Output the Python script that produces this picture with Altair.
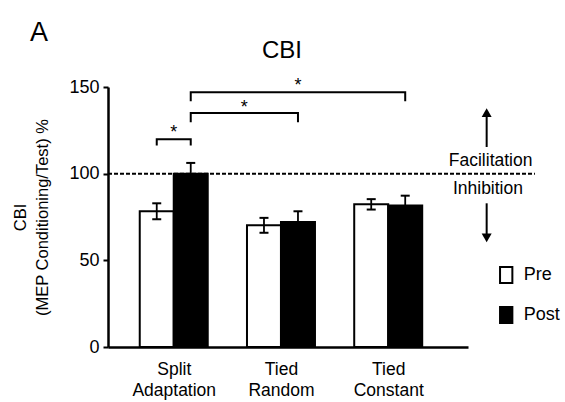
import json
import altair as alt
import pandas as pd

# ---------------- data ----------------
panel_label = ["A"]
chart_title = ["CBI"]
categories = ["Split Adaptation", "Tied Random", "Tied Constant"]
series = ["Pre", "Post"]
pre_values = [78.3, 70.2, 82.3]
post_values = [100.0, 72.1, 81.6]
pre_errors = [4.6, 4.3, 3.0]
post_errors = [6.2, 6.2, 5.7]
y_ticks = [0, 50, 100, 150]
y_title = ["CBI", "(MEP Conditioning/Test) %"]

# significance brackets
bracket_from = [("Split Adaptation", "Pre"), ("Split Adaptation", "Post"), ("Split Adaptation", "Post")]
bracket_to = [("Split Adaptation", "Post"), ("Tied Random", "Post"), ("Tied Constant", "Post")]
bracket_level = [119.8, 135.0, 146.9]
bracket_leg = [116.3, 129.6, 141.8]
star_level = [126.2, 140.6, 153.3]
star_text = ["*", "*", "*"]

reference_line = [100]
zone_labels = ["Facilitation", "Inhibition"]
zone_label_y = [104.3, 88.3]
arrow_from = [115.4, 82.9]
arrow_to = [135.2, 63.0]
arrow_shape = ["triangle-up", "triangle-down"]

# ---------------- layout constants ----------------
X_MIN, X_MAX = -0.613, 2.744
BAR_W = 0.317
DASH_END = 3.368
ANNOT_X = 2.918
FONT = "Liberation Sans"

offset = {"Pre": -BAR_W / 2, "Post": BAR_W / 2}

rows = []
for i, c in enumerate(categories):
    for s, vals, errs in (("Pre", pre_values, pre_errors), ("Post", post_values, post_errors)):
        xc = i + offset[s]
        rows.append(dict(category=c, series=s, x0=xc - BAR_W / 2, x1=xc + BAR_W / 2, xc=xc,
                         value=vals[i], lo=vals[i] - errs[i], hi=vals[i] + errs[i]))
bars_df = pd.DataFrame(rows)


def pos(cat, s):
    return categories.index(cat) + offset[s]


brows, srows = [], []
for b in range(len(bracket_from)):
    xa = pos(*bracket_from[b])
    xb = pos(*bracket_to[b])
    pts = [(xa, bracket_leg[b]), (xa, bracket_level[b]), (xb, bracket_level[b]), (xb, bracket_leg[b])]
    for o, (px, py) in enumerate(pts):
        brows.append(dict(b=b, o=o, x=px, y=py))
    srows.append(dict(x=(xa + xb) / 2, y=star_level[b], t=star_text[b]))
brackets_df = pd.DataFrame(brows)
stars_df = pd.DataFrame(srows)

arrows_df = pd.DataFrame(dict(x=[ANNOT_X, ANNOT_X], y0=arrow_from, y1=arrow_to, shape=arrow_shape))
zone_df = pd.DataFrame(dict(t=zone_labels, y=zone_label_y, x=[ANNOT_X + 0.037, ANNOT_X + 0.012]))
ref_df = pd.DataFrame(dict(y=reference_line))

xscale = alt.Scale(domain=[X_MIN, X_MAX], nice=False, zero=False)
yscale = alt.Scale(domain=[0, 150], nice=False, zero=True)

label_expr = "split(" + json.dumps(categories) + "[datum.value], ' ')"

x_axis = alt.Axis(values=[0, 1, 2], labelExpr=label_expr, title=None, grid=False,
                  ticks=False, tickSize=0, labelPadding=13, labelFontSize=17.5,
                  labelLineHeight=21.7, domainWidth=2.5, domainColor="black",
                  labelColor="black", labelFlush=False, labelOverlap=False, labelAngle=0)
y_axis = alt.Axis(values=y_ticks, title=y_title, grid=False, tickSize=5, tickWidth=2,
                  tickColor="black", labelPadding=4, labelFontSize=18, labelColor="black",
                  domainWidth=2.5, domainColor="black", titleFontSize=16.5,
                  titleFontWeight="normal", titleLineHeight=22, titlePadding=18,
                  titleColor="black")

dash = alt.Chart(ref_df).mark_rule(color="black", strokeWidth=2, strokeDash=[4, 2]).encode(
    y=alt.Y("y:Q", scale=yscale, axis=y_axis),
    x=alt.datum(X_MIN, scale=xscale),
    x2=alt.X2Datum(DASH_END),
)

bars = alt.Chart(bars_df).mark_rect(stroke="black", strokeWidth=2).encode(
    x=alt.X("x0:Q", scale=xscale, axis=x_axis),
    x2="x1:Q",
    y=alt.Y("value:Q", scale=yscale, axis=y_axis),
    y2=alt.Y2Datum(0),
    fill=alt.Fill("series:N", scale=alt.Scale(domain=series, range=["white", "black"]),
                  legend=alt.Legend(title=None, orient="none", legendX=389.2, legendY=179,
                                    symbolType="M-0.77,-1H0.77V1H-0.77Z", symbolSize=256,
                                    symbolStrokeColor="black", symbolStrokeWidth=2,
                                    labelFontSize=18, labelOffset=8.5, rowPadding=16,
                                    padding=0, labelColor="black")),
)

err = alt.Chart(bars_df).mark_rule(color="black", strokeWidth=1.8).encode(
    x=alt.X("xc:Q", scale=xscale), y=alt.Y("lo:Q", scale=yscale), y2="hi:Q")
cap_hi = alt.Chart(bars_df).mark_tick(orient="horizontal", size=9, thickness=2, color="black", opacity=1).encode(
    x=alt.X("xc:Q", scale=xscale), y=alt.Y("hi:Q", scale=yscale))
cap_lo = alt.Chart(bars_df).mark_tick(orient="horizontal", size=9, thickness=2, color="black", opacity=1).encode(
    x=alt.X("xc:Q", scale=xscale), y=alt.Y("lo:Q", scale=yscale))

bracket_lines = alt.Chart(brackets_df).mark_line(color="black", strokeWidth=2).encode(
    x=alt.X("x:Q", scale=xscale), y=alt.Y("y:Q", scale=yscale), detail="b:N", order="o:Q")
stars = alt.Chart(stars_df).mark_text(fontSize=18, baseline="alphabetic", dy=10, color="black").encode(
    x=alt.X("x:Q", scale=xscale), y=alt.Y("y:Q", scale=yscale), text="t:N")

shafts = alt.Chart(arrows_df).mark_rule(color="black", strokeWidth=2).encode(
    x=alt.X("x:Q", scale=xscale), y=alt.Y("y0:Q", scale=yscale), y2="y1:Q")
heads = alt.Chart(arrows_df).mark_point(filled=True, color="black", size=100, opacity=1).encode(
    x=alt.X("x:Q", scale=xscale), y=alt.Y("y1:Q", scale=yscale),
    shape=alt.Shape("shape:N", scale=None, legend=None))
zones = alt.Chart(zone_df).mark_text(fontSize=17.5, baseline="alphabetic", align="center", color="black").encode(
    x=alt.X("x:Q", scale=xscale), y=alt.Y("y:Q", scale=yscale), text="t:N")

panel = alt.Chart(pd.DataFrame(dict(t=panel_label))).mark_text(
    fontSize=27, baseline="alphabetic", align="center", color="black").encode(
    text="t:N", x=alt.value(-69), y=alt.value(-46.5))
title = alt.Chart(pd.DataFrame(dict(t=chart_title))).mark_text(
    fontSize=24, baseline="alphabetic", align="center", color="black").encode(
    text="t:N", x=alt.value(174), y=alt.value(-28.7))

chart = alt.layer(dash, bars, err, cap_hi, cap_lo, bracket_lines, stars, shafts, heads, zones,
                  panel, title).properties(
    width=360, height=260,
    autosize=alt.AutoSizeParams(type="none"),
    padding={"left": 108, "top": 87, "right": 97, "bottom": 55},
).configure(font=FONT).configure_view(stroke=None)

chart.save("out.html", embed_options={"renderer": "svg", "actions": False})
